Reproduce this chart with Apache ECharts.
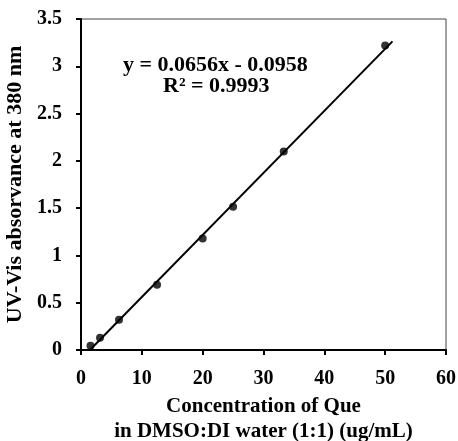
<!DOCTYPE html>
<html>
<head>
<meta charset="utf-8">
<script src="https://cdn.jsdelivr.net/npm/echarts@6/dist/echarts.min.js"></script>
<style>
  html, body { margin: 0; padding: 0; background: #fff; }
  #chart { width: 458px; height: 441px; }
</style>
</head>
<body>
<div id="chart"></div>
<script>
// Calibration standards: concentration (ug/mL) and absorbance at 380 nm
const concentration = [1.5625, 3.125, 6.25, 12.5, 20, 25, 33.33, 50];
const absorbance = [0.045, 0.13, 0.32, 0.69, 1.18, 1.515, 2.10, 3.22];

// Linear fit reported on the chart
const slope = 0.0656;
const intercept = -0.0958;
const rSquared = 0.9993;
const fitRange = [1.46, 51.2];

const xTicks = { min: 0, max: 60, interval: 10 };
const yTicks = { min: 0, max: 3.5, interval: 0.5 };

const FONT = 'Liberation Serif, Times New Roman, serif';

const fitLine = fitRange.map(x => [x, slope * x + intercept]);
const points = concentration.map((c, i) => [c, absorbance[i]]);

const chart = echarts.init(document.getElementById('chart'));
chart.setOption({
  animation: false,
  backgroundColor: '#fff',
  grid: {
    left: 81, right: 12, top: 19, bottom: 91,
    containLabel: false,
    outerBoundsMode: 'none',
    show: true, borderColor: '#444', borderWidth: 1
  },
  xAxis: {
    type: 'value',
    min: xTicks.min, max: xTicks.max, interval: xTicks.interval,
    name: 'Concentration of Que\nin DMSO:DI water (1:1) (ug/mL)',
    nameLocation: 'middle',
    nameGap: 41,
    nameTextStyle: { fontFamily: FONT, fontWeight: 'bold', fontSize: 21, color: '#000', lineHeight: 25 },
    axisLine: { onZero: false, lineStyle: { color: '#000', width: 2 } },
    axisTick: { show: true, length: 5, lineStyle: { color: '#000', width: 2 } },
    axisLabel: { margin: 19, fontFamily: FONT, fontWeight: 'bold', fontSize: 20, color: '#000' },
    splitLine: { show: false }
  },
  yAxis: {
    type: 'value',
    min: yTicks.min, max: yTicks.max, interval: yTicks.interval,
    name: 'UV-Vis absorvance at 380 nm',
    nameLocation: 'middle',
    nameGap: 53,
    nameTextStyle: { fontFamily: FONT, fontWeight: 'bold', fontSize: 22, color: '#000' },
    axisLine: { onZero: false, lineStyle: { color: '#000', width: 2 } },
    axisTick: { show: true, length: 5, lineStyle: { color: '#000', width: 2 } },
    axisLabel: { margin: 19, fontFamily: FONT, fontWeight: 'bold', fontSize: 20, color: '#000' },
    splitLine: { show: false }
  },
  graphic: [
    {
      type: 'text', left: 123, top: 54,
      style: { text: 'y = 0.0656x - 0.0958', font: 'bold 22px ' + FONT, fill: '#000' }
    },
    {
      type: 'text', left: 163, top: 75,
      style: { text: 'R² = ' + rSquared.toFixed(4), font: 'bold 22px ' + FONT, fill: '#000' }
    }
  ],
  series: [
    {
      type: 'line',
      data: fitLine,
      symbol: 'none',
      lineStyle: { color: '#000', width: 2 },
      z: 2
    },
    {
      type: 'scatter',
      data: points,
      symbol: 'circle',
      symbolSize: 8,
      itemStyle: { color: '#000' },
      z: 3
    }
  ]
});
</script>
</body>
</html>
